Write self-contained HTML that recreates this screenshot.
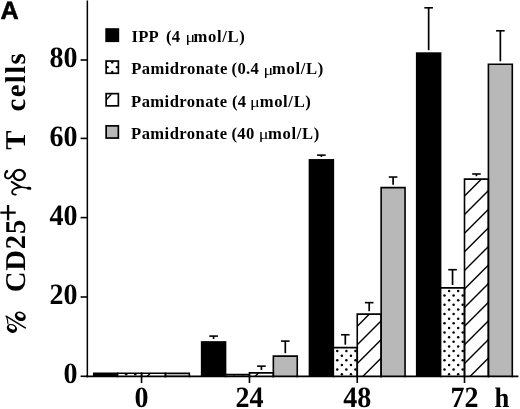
<!DOCTYPE html>
<html><head><meta charset="utf-8"><title>Figure A</title><style>
html,body{margin:0;padding:0;background:#fff;width:520px;height:409px;overflow:hidden}
svg{display:block;will-change:transform}
.num{font-family:"Liberation Serif",serif;font-weight:bold;font-size:29.5px;fill:#000;text-rendering:geometricPrecision}
.leg{font-family:"Liberation Serif",serif;font-weight:bold;font-size:16.6px;fill:#000;letter-spacing:0.3px}
.mu{font-family:"Liberation Serif",serif;font-size:15.5px;fill:#000}
.ml{letter-spacing:0.65px}
.pm{letter-spacing:0.42px}
.yt{font-family:"Liberation Serif",serif;font-weight:bold;font-size:28.7px;fill:#000;letter-spacing:0.8px;text-rendering:geometricPrecision}
.g{font-weight:normal}
.plus{font-size:33px}
.pct{font-size:30px}
.gd{font-size:30px;letter-spacing:2.5px}
.cells{letter-spacing:1.4px}
.A{font-family:"Liberation Sans",sans-serif;font-weight:bold;font-size:25.2px;fill:#000;stroke:#000;stroke-width:0.55px;text-rendering:geometricPrecision}
</style></head>
<body><svg width="520" height="409" viewBox="0 0 520 409">
<defs><clipPath id="c1"><rect x="117.65" y="373.30" width="23.90" height="3.10"/></clipPath><clipPath id="c2"><rect x="141.55" y="373.30" width="23.90" height="3.10"/></clipPath><clipPath id="c3"><rect x="225.55" y="374.60" width="23.90" height="1.80"/></clipPath><clipPath id="c4"><rect x="249.45" y="372.85" width="23.90" height="3.55"/></clipPath><clipPath id="c5"><rect x="333.35" y="347.60" width="23.90" height="28.80"/></clipPath><clipPath id="c6"><rect x="357.25" y="314.10" width="23.90" height="62.30"/></clipPath><clipPath id="c7"><rect x="440.60" y="287.90" width="23.90" height="88.50"/></clipPath><clipPath id="c8"><rect x="464.50" y="179.10" width="23.90" height="197.30"/></clipPath></defs>
<rect width="520" height="409" fill="#fff"/>
<rect x="92.95" y="372.50" width="25.50" height="3.90" fill="#000"/>
<rect x="117.65" y="373.30" width="23.90" height="3.10" fill="#fff"/>
<g clip-path="url(#c1)" fill="#000"><circle cx="126.15" cy="374.30" r="1.25"/><circle cx="135.25" cy="374.30" r="1.25"/><circle cx="144.35" cy="374.30" r="1.25"/></g>
<rect x="141.55" y="373.30" width="23.90" height="3.10" fill="#fff"/>
<g clip-path="url(#c2)" stroke="#000" stroke-width="1.4"><line x1="136.55" y1="387.00" x2="170.45" y2="353.10"/><line x1="136.55" y1="368.40" x2="170.45" y2="334.50"/><line x1="136.55" y1="349.80" x2="170.45" y2="315.90"/></g>
<rect x="165.45" y="373.30" width="23.90" height="3.10" fill="#b8b8b8"/>
<path d="M117.65 376.40V373.30H141.55V376.40" fill="none" stroke="#000" stroke-width="1.6" stroke-linecap="square"/>
<path d="M141.55 376.40V373.30H165.45V376.40" fill="none" stroke="#000" stroke-width="1.6" stroke-linecap="square"/>
<path d="M165.45 376.40V373.30H189.35V376.40" fill="none" stroke="#000" stroke-width="1.6" stroke-linecap="square"/>
<rect x="200.85" y="341.15" width="25.50" height="35.25" fill="#000"/>
<rect x="225.55" y="374.60" width="23.90" height="1.80" fill="#fff"/>
<g clip-path="url(#c3)" fill="#000"><circle cx="234.05" cy="374.30" r="1.25"/><circle cx="243.15" cy="374.30" r="1.25"/><circle cx="252.25" cy="374.30" r="1.25"/></g>
<rect x="249.45" y="372.85" width="23.90" height="3.55" fill="#fff"/>
<g clip-path="url(#c4)" stroke="#000" stroke-width="1.4"><line x1="244.45" y1="387.00" x2="278.35" y2="353.10"/><line x1="244.45" y1="368.40" x2="278.35" y2="334.50"/><line x1="244.45" y1="349.80" x2="278.35" y2="315.90"/></g>
<rect x="273.35" y="356.10" width="23.90" height="20.30" fill="#b8b8b8"/>
<path d="M225.55 376.40V374.60H249.45V376.40" fill="none" stroke="#000" stroke-width="1.6" stroke-linecap="square"/>
<path d="M249.45 376.40V372.85H273.35V376.40" fill="none" stroke="#000" stroke-width="1.6" stroke-linecap="square"/>
<path d="M273.35 376.40V356.10H297.25V376.40" fill="none" stroke="#000" stroke-width="1.6" stroke-linecap="square"/>
<line x1="213.60" y1="336.10" x2="213.60" y2="339.05" stroke="#000" stroke-width="1.7"/>
<line x1="209.30" y1="336.10" x2="217.90" y2="336.10" stroke="#000" stroke-width="1.6"/>
<line x1="261.40" y1="366.15" x2="261.40" y2="369.95" stroke="#000" stroke-width="1.7"/>
<line x1="257.10" y1="366.15" x2="265.70" y2="366.15" stroke="#000" stroke-width="1.6"/>
<line x1="285.30" y1="341.10" x2="285.30" y2="353.20" stroke="#000" stroke-width="1.7"/>
<line x1="281.00" y1="341.10" x2="289.60" y2="341.10" stroke="#000" stroke-width="1.6"/>
<rect x="308.65" y="159.05" width="25.50" height="217.35" fill="#000"/>
<rect x="333.35" y="347.60" width="23.90" height="28.80" fill="#fff"/>
<g clip-path="url(#c5)" fill="#000"><circle cx="337.25" cy="369.50" r="1.25"/><circle cx="346.35" cy="369.50" r="1.25"/><circle cx="355.45" cy="369.50" r="1.25"/><circle cx="337.25" cy="360.25" r="1.25"/><circle cx="346.35" cy="360.25" r="1.25"/><circle cx="355.45" cy="360.25" r="1.25"/><circle cx="337.25" cy="351.00" r="1.25"/><circle cx="346.35" cy="351.00" r="1.25"/><circle cx="355.45" cy="351.00" r="1.25"/><circle cx="341.85" cy="374.30" r="1.25"/><circle cx="350.95" cy="374.30" r="1.25"/><circle cx="360.05" cy="374.30" r="1.25"/><circle cx="341.85" cy="365.05" r="1.25"/><circle cx="350.95" cy="365.05" r="1.25"/><circle cx="360.05" cy="365.05" r="1.25"/><circle cx="341.85" cy="355.80" r="1.25"/><circle cx="350.95" cy="355.80" r="1.25"/><circle cx="360.05" cy="355.80" r="1.25"/><circle cx="341.85" cy="346.55" r="1.25"/><circle cx="350.95" cy="346.55" r="1.25"/><circle cx="360.05" cy="346.55" r="1.25"/></g>
<rect x="357.25" y="314.10" width="23.90" height="62.30" fill="#fff"/>
<g clip-path="url(#c6)" stroke="#000" stroke-width="1.4"><line x1="352.25" y1="387.00" x2="386.15" y2="353.10"/><line x1="352.25" y1="368.40" x2="386.15" y2="334.50"/><line x1="352.25" y1="349.80" x2="386.15" y2="315.90"/><line x1="352.25" y1="331.20" x2="386.15" y2="297.30"/><line x1="352.25" y1="312.60" x2="386.15" y2="278.70"/><line x1="352.25" y1="294.00" x2="386.15" y2="260.10"/></g>
<rect x="381.15" y="187.60" width="23.90" height="188.80" fill="#b8b8b8"/>
<path d="M333.35 376.40V347.60H357.25V376.40" fill="none" stroke="#000" stroke-width="1.6" stroke-linecap="square"/>
<path d="M357.25 376.40V314.10H381.15V376.40" fill="none" stroke="#000" stroke-width="1.6" stroke-linecap="square"/>
<path d="M381.15 376.40V187.60H405.05V376.40" fill="none" stroke="#000" stroke-width="1.6" stroke-linecap="square"/>
<line x1="321.40" y1="155.15" x2="321.40" y2="156.95" stroke="#000" stroke-width="1.7"/>
<line x1="317.10" y1="155.15" x2="325.70" y2="155.15" stroke="#000" stroke-width="1.6"/>
<line x1="345.30" y1="334.75" x2="345.30" y2="344.70" stroke="#000" stroke-width="1.7"/>
<line x1="341.00" y1="334.75" x2="349.60" y2="334.75" stroke="#000" stroke-width="1.6"/>
<line x1="369.20" y1="302.65" x2="369.20" y2="311.20" stroke="#000" stroke-width="1.7"/>
<line x1="364.90" y1="302.65" x2="373.50" y2="302.65" stroke="#000" stroke-width="1.6"/>
<line x1="393.10" y1="177.05" x2="393.10" y2="184.70" stroke="#000" stroke-width="1.7"/>
<line x1="388.80" y1="177.05" x2="397.40" y2="177.05" stroke="#000" stroke-width="1.6"/>
<rect x="415.90" y="52.30" width="25.50" height="324.10" fill="#000"/>
<rect x="440.60" y="287.90" width="23.90" height="88.50" fill="#fff"/>
<g clip-path="url(#c7)" fill="#000"><circle cx="444.50" cy="369.50" r="1.25"/><circle cx="453.60" cy="369.50" r="1.25"/><circle cx="462.70" cy="369.50" r="1.25"/><circle cx="444.50" cy="360.25" r="1.25"/><circle cx="453.60" cy="360.25" r="1.25"/><circle cx="462.70" cy="360.25" r="1.25"/><circle cx="444.50" cy="351.00" r="1.25"/><circle cx="453.60" cy="351.00" r="1.25"/><circle cx="462.70" cy="351.00" r="1.25"/><circle cx="444.50" cy="341.75" r="1.25"/><circle cx="453.60" cy="341.75" r="1.25"/><circle cx="462.70" cy="341.75" r="1.25"/><circle cx="444.50" cy="332.50" r="1.25"/><circle cx="453.60" cy="332.50" r="1.25"/><circle cx="462.70" cy="332.50" r="1.25"/><circle cx="444.50" cy="323.25" r="1.25"/><circle cx="453.60" cy="323.25" r="1.25"/><circle cx="462.70" cy="323.25" r="1.25"/><circle cx="444.50" cy="314.00" r="1.25"/><circle cx="453.60" cy="314.00" r="1.25"/><circle cx="462.70" cy="314.00" r="1.25"/><circle cx="444.50" cy="304.75" r="1.25"/><circle cx="453.60" cy="304.75" r="1.25"/><circle cx="462.70" cy="304.75" r="1.25"/><circle cx="444.50" cy="295.50" r="1.25"/><circle cx="453.60" cy="295.50" r="1.25"/><circle cx="462.70" cy="295.50" r="1.25"/><circle cx="444.50" cy="286.25" r="1.25"/><circle cx="453.60" cy="286.25" r="1.25"/><circle cx="462.70" cy="286.25" r="1.25"/><circle cx="449.10" cy="374.30" r="1.25"/><circle cx="458.20" cy="374.30" r="1.25"/><circle cx="467.30" cy="374.30" r="1.25"/><circle cx="449.10" cy="365.05" r="1.25"/><circle cx="458.20" cy="365.05" r="1.25"/><circle cx="467.30" cy="365.05" r="1.25"/><circle cx="449.10" cy="355.80" r="1.25"/><circle cx="458.20" cy="355.80" r="1.25"/><circle cx="467.30" cy="355.80" r="1.25"/><circle cx="449.10" cy="346.55" r="1.25"/><circle cx="458.20" cy="346.55" r="1.25"/><circle cx="467.30" cy="346.55" r="1.25"/><circle cx="449.10" cy="337.30" r="1.25"/><circle cx="458.20" cy="337.30" r="1.25"/><circle cx="467.30" cy="337.30" r="1.25"/><circle cx="449.10" cy="328.05" r="1.25"/><circle cx="458.20" cy="328.05" r="1.25"/><circle cx="467.30" cy="328.05" r="1.25"/><circle cx="449.10" cy="318.80" r="1.25"/><circle cx="458.20" cy="318.80" r="1.25"/><circle cx="467.30" cy="318.80" r="1.25"/><circle cx="449.10" cy="309.55" r="1.25"/><circle cx="458.20" cy="309.55" r="1.25"/><circle cx="467.30" cy="309.55" r="1.25"/><circle cx="449.10" cy="300.30" r="1.25"/><circle cx="458.20" cy="300.30" r="1.25"/><circle cx="467.30" cy="300.30" r="1.25"/><circle cx="449.10" cy="291.05" r="1.25"/><circle cx="458.20" cy="291.05" r="1.25"/><circle cx="467.30" cy="291.05" r="1.25"/></g>
<rect x="464.50" y="179.10" width="23.90" height="197.30" fill="#fff"/>
<g clip-path="url(#c8)" stroke="#000" stroke-width="1.4"><line x1="459.50" y1="387.00" x2="493.40" y2="353.10"/><line x1="459.50" y1="368.40" x2="493.40" y2="334.50"/><line x1="459.50" y1="349.80" x2="493.40" y2="315.90"/><line x1="459.50" y1="331.20" x2="493.40" y2="297.30"/><line x1="459.50" y1="312.60" x2="493.40" y2="278.70"/><line x1="459.50" y1="294.00" x2="493.40" y2="260.10"/><line x1="459.50" y1="275.40" x2="493.40" y2="241.50"/><line x1="459.50" y1="256.80" x2="493.40" y2="222.90"/><line x1="459.50" y1="238.20" x2="493.40" y2="204.30"/><line x1="459.50" y1="219.60" x2="493.40" y2="185.70"/><line x1="459.50" y1="201.00" x2="493.40" y2="167.10"/><line x1="459.50" y1="182.40" x2="493.40" y2="148.50"/><line x1="459.50" y1="163.80" x2="493.40" y2="129.90"/></g>
<rect x="488.40" y="64.20" width="23.90" height="312.20" fill="#b8b8b8"/>
<path d="M440.60 376.40V287.90H464.50V376.40" fill="none" stroke="#000" stroke-width="1.6" stroke-linecap="square"/>
<path d="M464.50 376.40V179.10H488.40V376.40" fill="none" stroke="#000" stroke-width="1.6" stroke-linecap="square"/>
<path d="M488.40 376.40V64.20H512.30V376.40" fill="none" stroke="#000" stroke-width="1.6" stroke-linecap="square"/>
<line x1="428.65" y1="7.80" x2="428.65" y2="50.20" stroke="#000" stroke-width="1.7"/>
<line x1="424.35" y1="7.80" x2="432.95" y2="7.80" stroke="#000" stroke-width="1.6"/>
<line x1="452.55" y1="269.70" x2="452.55" y2="285.00" stroke="#000" stroke-width="1.7"/>
<line x1="448.25" y1="269.70" x2="456.85" y2="269.70" stroke="#000" stroke-width="1.6"/>
<line x1="476.45" y1="174.00" x2="476.45" y2="176.20" stroke="#000" stroke-width="1.7"/>
<line x1="472.15" y1="174.00" x2="480.75" y2="174.00" stroke="#000" stroke-width="1.6"/>
<line x1="500.35" y1="30.80" x2="500.35" y2="61.30" stroke="#000" stroke-width="1.7"/>
<line x1="496.05" y1="30.80" x2="504.65" y2="30.80" stroke="#000" stroke-width="1.6"/>
<line x1="87.35" y1="0.5" x2="87.35" y2="377.30" stroke="#000" stroke-width="1.5"/>
<line x1="86" y1="376.45" x2="518.4" y2="376.45" stroke="#000" stroke-width="1.8"/>
<line x1="80.6" y1="376.30" x2="87.5" y2="376.30" stroke="#000" stroke-width="1.6"/>
<line x1="80.6" y1="297.00" x2="87.5" y2="297.00" stroke="#000" stroke-width="1.6"/>
<line x1="80.6" y1="217.60" x2="87.5" y2="217.60" stroke="#000" stroke-width="1.6"/>
<line x1="80.6" y1="138.40" x2="87.5" y2="138.40" stroke="#000" stroke-width="1.6"/>
<line x1="80.6" y1="60.00" x2="87.5" y2="60.00" stroke="#000" stroke-width="1.6"/>
<line x1="141.55" y1="376.45" x2="141.55" y2="383" stroke="#000" stroke-width="1.6"/>
<line x1="249.45" y1="376.45" x2="249.45" y2="383" stroke="#000" stroke-width="1.6"/>
<line x1="357.25" y1="376.45" x2="357.25" y2="383" stroke="#000" stroke-width="1.6"/>
<line x1="464.50" y1="376.45" x2="464.50" y2="383" stroke="#000" stroke-width="1.6"/>
<text transform="translate(77.4 383.40) scale(0.95 1)" text-anchor="end" class="num">0</text>
<text transform="translate(77.4 304.10) scale(0.95 1)" text-anchor="end" class="num">20</text>
<text transform="translate(77.4 224.70) scale(0.95 1)" text-anchor="end" class="num">40</text>
<text transform="translate(77.4 145.50) scale(0.95 1)" text-anchor="end" class="num">60</text>
<text transform="translate(77.4 67.10) scale(0.95 1)" text-anchor="end" class="num">80</text>
<text transform="translate(141.55 407.0) scale(0.95 1)" text-anchor="middle" class="num">0</text>
<text transform="translate(249.45 407.0) scale(0.95 1)" text-anchor="middle" class="num">24</text>
<text transform="translate(357.25 407.0) scale(0.95 1)" text-anchor="middle" class="num">48</text>
<text transform="translate(464.50 407.0) scale(0.95 1)" text-anchor="middle" class="num">72</text>
<text transform="translate(494.4 407.2) scale(0.95 1)" class="num" style="font-size:28px">h</text>
<rect x="105.3" y="28.2" width="13.9" height="13.9" fill="#000"/>
<text x="131.40" y="42.00" class="leg">IPP</text>
<text x="165.90" y="42.00" class="leg">(4</text>
<text transform="translate(185.40 42.10) scale(1.18 1)" class="mu">&#956;</text>
<text x="193.50" y="42.00" class="leg ml">mol/L)</text>
<rect x="106.15" y="61.05" width="12.20" height="12.20" fill="#fff" stroke="#000" stroke-width="1.7"/>
<circle cx="112.25" cy="62.40" r="1.2"/>
<circle cx="112.25" cy="71.90" r="1.2"/>
<circle cx="107.50" cy="67.15" r="1.2"/>
<circle cx="117.00" cy="67.15" r="1.2"/>
<text x="131.30" y="74.40" class="leg pm">Pamidronate</text>
<text x="231.60" y="74.40" class="leg">(0.4</text>
<text transform="translate(263.40 74.50) scale(1.18 1)" class="mu">&#956;</text>
<text x="272.00" y="74.40" class="leg ml">mol/L)</text>
<rect x="106.15" y="93.65" width="12.20" height="12.20" fill="#fff" stroke="#000" stroke-width="1.7"/>
<line x1="106.80" y1="99.30" x2="111.30" y2="94.30" stroke="#000" stroke-width="1.3"/>
<text x="131.10" y="106.70" class="leg pm">Pamidronate</text>
<text x="232.00" y="106.70" class="leg">(4</text>
<text transform="translate(250.00 106.80) scale(1.18 1)" class="mu">&#956;</text>
<text x="259.70" y="106.70" class="leg ml">mol/L)</text>
<rect x="106.15" y="125.85" width="12.20" height="12.20" fill="#b8b8b8" stroke="#000" stroke-width="1.7"/>
<text x="131.10" y="139.00" class="leg pm">Pamidronate</text>
<text x="231.50" y="139.00" class="leg">(40</text>
<text transform="translate(258.80 139.10) scale(1.18 1)" class="mu">&#956;</text>
<text x="268.10" y="139.00" class="leg ml">mol/L)</text>
<text transform="translate(25.3 292.20) rotate(-90)" class="yt" >CD25</text>
<text transform="translate(25.3 222.00) rotate(-90)" class="yt plus" dy="-6.7">+</text>
<text transform="translate(25.3 149.80) rotate(-90)" class="yt" >T</text>
<text transform="translate(25.3 111.50) rotate(-90)" class="yt cells" >cells</text>
<text x="0.6" y="18.9" class="A">A</text>
<g fill="none" stroke="#000" stroke-linecap="round">
<path d="M11.8 181.9 L20.5 187.0" stroke-width="2.1"/>
<path d="M20.5 187.0 L27.5 188.0" stroke-width="1.5"/>
<ellipse cx="29.0" cy="188.3" rx="2.4" ry="1.5" transform="rotate(8 29 188.3)" fill="#000" stroke="none"/>
<path d="M20.6 187.2 C15.5 187.9 12.0 189.6 12.1 192.2 C12.2 194.0 14.0 194.6 15.8 194.6" stroke-width="1.8"/>
<ellipse cx="19.2" cy="175.0" rx="5.6" ry="5.1" stroke-width="2.3"/>
<path d="M13.8 173.6 C11.5 177.2 8.5 179.6 6.0 177.8 C4.3 176.5 4.8 173.0 6.9 171.2" stroke-width="1.9"/>
<circle cx="6.8" cy="171.4" r="1.35" fill="#000" stroke="none"/>
</g>
<g>
<ellipse cx="20.3" cy="316.3" rx="5.7" ry="4.5" transform="rotate(25 20.3 316.3)" fill="#000"/>
<ellipse cx="20.4" cy="315.4" rx="3.4" ry="2.0" transform="rotate(25 20.4 315.4)" fill="#fff"/>
<ellipse cx="11.9" cy="328.4" rx="5.3" ry="4.3" transform="rotate(25 11.9 328.4)" fill="#000"/>
<ellipse cx="12.0" cy="327.3" rx="3.3" ry="1.9" transform="rotate(25 12.0 327.3)" fill="#fff"/>
<path d="M6.1 316.2 L25.3 327.9" stroke="#000" stroke-width="1.5" stroke-linecap="round"/>
<path d="M6.6 316.8 C7.4 319 7.8 321.5 8.0 324.2" stroke="#000" stroke-width="1.1" fill="none"/>
</g>
</svg></body></html>
